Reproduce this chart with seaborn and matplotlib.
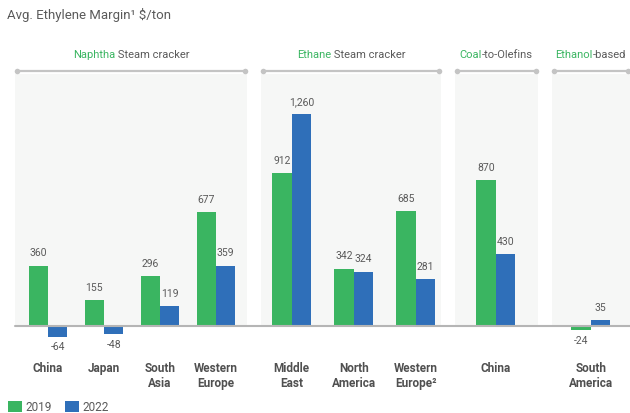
import matplotlib
matplotlib.use("Agg")
import matplotlib.pyplot as plt
from matplotlib import font_manager
from matplotlib.lines import Line2D
import pandas as pd
import seaborn as sns

# ---- data -------------------------------------------------------------
years = ["2019", "2022"]

naphtha_regions = ["China", "Japan", "South\nAsia", "Western\nEurope"]
naphtha_2019 = [360, 155, 296, 677]
naphtha_2022 = [-64, -48, 119, 359]

ethane_regions = ["Middle\nEast", "North\nAmerica", "Western\nEurope\u00b2"]
ethane_2019 = [912, 342, 685]
ethane_2022 = [1260, 324, 281]

coal_regions = ["China"]
coal_2019 = [870]
coal_2022 = [430]

ethanol_regions = ["South\nAmerica"]
ethanol_2019 = [-24]
ethanol_2022 = [35]

group_highlight = ["Naphtha", "Ethane", "Coal", "Ethanol"]
group_rest = [" Steam cracker", " Steam cracker", "-to-Olefins", "-based"]

title = "Avg. Ethylene Margin\u00b9 $/ton"

# ---- style ------------------------------------------------------------
sns.set_theme(style="white")
available = {f.name for f in font_manager.fontManager.ttflist}
family = next((f for f in ["Liberation Sans Narrow", "Roboto", "Liberation Sans", "DejaVu Sans"]
               if f in available), "DejaVu Sans")
plt.rcParams["font.family"] = [family, "DejaVu Sans"]

GREEN = "#3AB561"
BLUE = "#2F6FB9"
PANEL_BG = "#F6F7F6"
TEXT = "#5A5A5A"
LABEL = "#505050"
RULE = "#C4C4C4"

W, H, DPI = 630, 414, 100
fig = plt.figure(figsize=(W / DPI, H / DPI), dpi=DPI)
fig.patch.set_facecolor("white")


def fx(px):
    return px / W


def fy(py):
    return 1 - py / H


PANEL_TOP, BASELINE = 75, 327
Y_MAX = 1500
BAR_PX = 38.6

# panel geometry in pixels: left, right, first category centre, spacing
panels = [
    (15, 247, 48.0, 56.0),
    (261, 441, 291.7, 62.0),
    (455, 538, 495.7, 57.0),
    (552, 630, 590.7, 57.0),
]

groups = [
    (naphtha_regions, naphtha_2019, naphtha_2022),
    (ethane_regions, ethane_2019, ethane_2022),
    (coal_regions, coal_2019, coal_2022),
    (ethanol_regions, ethanol_2019, ethanol_2022),
]

renderer = fig.canvas.get_renderer()
axes = []
for gi, ((regions, v19, v22), (left, right, c0, step)) in enumerate(zip(groups, panels)):
    ax = fig.add_axes([fx(left), fy(BASELINE), fx(right) - fx(left),
                       fy(PANEL_TOP) - fy(BASELINE)])
    df = pd.DataFrame({
        "region": regions * 2,
        "year": [years[0]] * len(regions) + [years[1]] * len(regions),
        "margin": list(v19) + list(v22),
    })
    sns.barplot(data=df, x="region", y="margin", hue="year", order=regions,
                hue_order=years, palette=[GREEN, BLUE], saturation=1,
                width=BAR_PX / step, linewidth=0, errorbar=None, ax=ax,
                legend=(gi == 0))
    ax.set_facecolor(PANEL_BG)
    ax.set_xlim((left - c0) / step, (right - c0) / step)
    ax.set_ylim(0, Y_MAX)
    for s in ax.spines.values():
        s.set_visible(False)
    ax.set_yticks([])
    ax.set_xlabel("")
    ax.set_ylabel("")
    ax.tick_params(axis="x", length=0, pad=25, labelsize=8.5, labelcolor=LABEL)
    for t in ax.get_xticklabels():
        t.set_fontweight("bold")
        t.set_linespacing(1.2)

    for cont in ax.containers:
        for bar in cont:
            bar.set_clip_on(False)
        for bar, val in zip(cont, cont.datavalues):
            xc = bar.get_x() + bar.get_width() / 2
            off = 9.5 if val >= 0 else -7
            ax.annotate(f"{val:,.0f}", (xc, val), xytext=(0, off),
                        textcoords="offset points", ha="center", va="center",
                        fontsize=7.5, color=TEXT, annotation_clip=False)

    # bracket with end dots above each panel
    bl, br = left + 2, right - 2
    fig.add_artist(Line2D([fx(bl), fx(br)], [fy(72), fy(72)], transform=fig.transFigure,
                          color=RULE, lw=1.6, marker="o", markersize=4,
                          markerfacecolor=RULE, markeredgewidth=0))

    # two-colour group heading centred over the panel
    t1 = fig.text(0, fy(55), group_highlight[gi], color=GREEN, fontsize=8, va="center")
    t2 = fig.text(0, fy(55), group_rest[gi], color=TEXT, fontsize=8, va="center")
    w1 = t1.get_window_extent(renderer).width
    w2 = t2.get_window_extent(renderer).width
    centre = min((left + right) / 2, 630 - (w1 + w2) / 2 - 2)
    start = centre - (w1 + w2) / 2
    t1.set_x(fx(start))
    t2.set_x(fx(start + w1))
    axes.append(ax)

# shared zero line across all panels
fig.add_artist(Line2D([fx(15), fx(630)], [fy(BASELINE), fy(BASELINE)],
                      transform=fig.transFigure, color="#B5B5B5", lw=1.5))

fig.text(fx(7), fy(15), title, fontsize=9.5, color=TEXT, va="center", ha="left")

handles, labels = axes[0].get_legend_handles_labels()
axes[0].get_legend().remove()
fig.legend(handles, labels, loc="center left", bbox_to_anchor=(fx(8), fy(408)),
           frameon=False, ncol=2, fontsize=8.5, handlelength=1.2, handleheight=1.1,
           handletextpad=0.3, columnspacing=1.1, borderpad=0, borderaxespad=0,
           labelcolor=TEXT)

fig.savefig("out.png", dpi=DPI)
